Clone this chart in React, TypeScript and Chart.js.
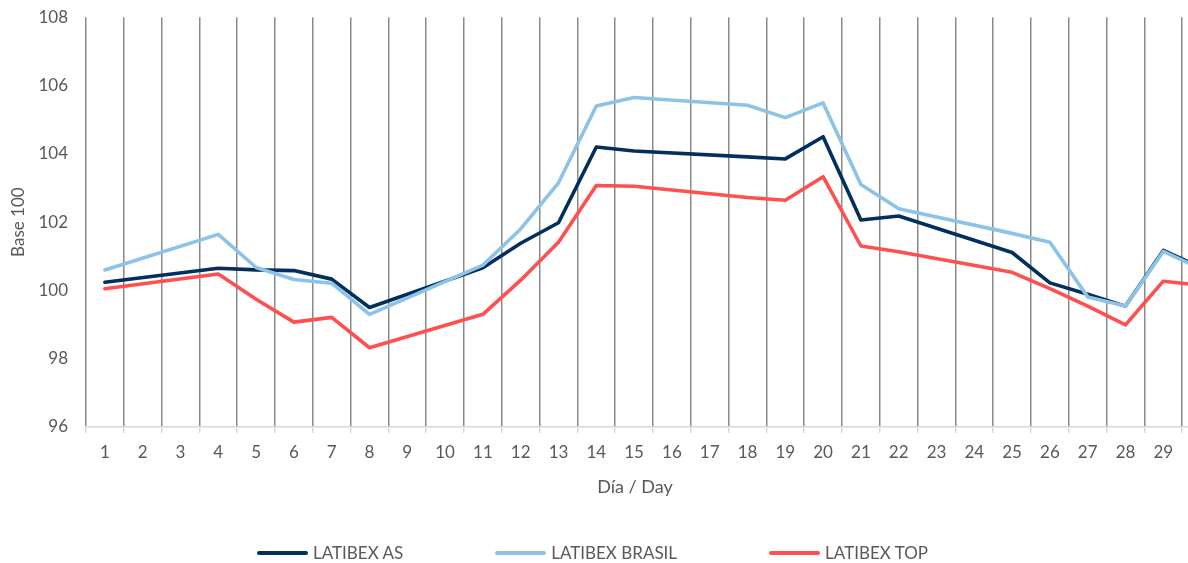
import React, { useEffect, useRef } from "react";
import { Chart, registerables } from "chart.js";

Chart.register(...registerables);

const days = ["1","2","3","4","5","6","7","8","9","10","11","12","13","14","15","16","17","18","19","20","21","22","23","24","25","26","27","28","29","30"];

// weekend days have no quote (null); Excel joins the line across them
const latibexAS = [100.24,null,null,100.65,100.6,100.58,100.33,99.5,null,null,100.66,101.38,101.98,104.2,104.08,null,null,103.91,103.85,104.5,102.06,102.18,null,null,101.11,100.22,99.89,99.54,101.17,100.67];
const latibexBrasil = [100.6,null,null,101.64,100.67,100.32,100.21,99.3,null,null,100.74,101.8,103.15,105.4,105.65,null,null,105.42,105.06,105.49,103.1,102.39,null,null,101.67,101.41,99.81,99.54,101.14,100.63];
const latibexTop = [100.05,null,null,100.48,99.74,99.07,99.21,98.32,null,null,99.3,100.3,101.41,103.07,103.05,null,null,102.72,102.64,103.33,101.3,101.13,null,null,100.53,100.05,99.54,98.99,100.27,100.15];

const seriesNames = ["LATIBEX AS", "LATIBEX BRASIL", "LATIBEX TOP"];
const seriesColors = ["#022f5e", "#8cc3e7", "#ff5050"];
const yTicks = [96, 98, 100, 102, 104, 106, 108];
const xTitle = "Día / Day";
const yTitle = "Base 100";

const FONT = "Lato, 'Open Sans', sans-serif";
const TEXT = "#595959";

export default function App() {
  const ref = useRef<HTMLCanvasElement>(null);

  useEffect(() => {
    const values = [latibexAS, latibexBrasil, latibexTop];
    const chart = new Chart(ref.current!, {
      type: "line",
      data: {
        labels: days,
        datasets: values.map((v, i) => ({
          label: seriesNames[i],
          data: v,
          borderColor: seriesColors[i],
          backgroundColor: seriesColors[i],
          borderWidth: 3.6,
          pointRadius: 0,
          tension: 0,
          spanGaps: true,
          borderJoinStyle: "round" as const,
          borderCapStyle: "round" as const,
          order: 2 - i,
        })),
      },
      options: {
        animation: false,
        responsive: true,
        maintainAspectRatio: false,
        layout: { padding: { left: 0, top: 0, right: 20, bottom: 0 } },
        plugins: { legend: { display: false }, tooltip: { enabled: false } },
        scales: {
          x: {
            offset: true,
            grid: {
              offset: true,
              color: "#8a8a8a",
              lineWidth: 1.5,
              tickColor: "#d9d9d9",
              tickLength: 6,
              drawTicks: true,
            },
            border: { color: "#d9d9d9", width: 1.5 },
            ticks: {
              color: TEXT,
              font: { family: FONT, size: 17 },
              autoSkip: false,
              maxRotation: 0,
              padding: 9,
            },
            afterFit: (s: any) => {
              s.height = 136;
            },
          },
          y: {
            min: yTicks[0],
            max: yTicks[yTicks.length - 1],
            grid: { display: false, drawTicks: true, tickLength: 11 },
            border: { display: false },
            ticks: {
              stepSize: 2,
              color: TEXT,
              font: { family: FONT, size: 17 },
              padding: 7,
            },
            title: {
              display: true,
              text: yTitle,
              color: TEXT,
              font: { family: FONT, size: 17 },
              padding: { top: 8, bottom: 0 },
            },
            afterFit: (s: any) => {
              s.width = 86;
            },
          },
        },
      },
    });
    return () => chart.destroy();
  }, []);

  return (
    <div style={{ position: "fixed", inset: 0, overflow: "hidden", background: "#fff", fontFamily: FONT, color: TEXT }}>
      <div style={{ position: "absolute", left: 0, top: 0, width: 1240, height: 563 }}>
        <canvas ref={ref} />
      </div>
      <div style={{ position: "absolute", left: 0, width: 1270, top: 475, textAlign: "center", fontSize: 18, lineHeight: "22px" }}>
        {xTitle}
      </div>
      <div style={{ position: "absolute", left: 257, top: 542, display: "flex", alignItems: "center", gap: 92, fontSize: 17, lineHeight: "22px", whiteSpace: "nowrap" }}>
        {seriesNames.map((n, i) => (
          <div key={n} style={{ display: "flex", alignItems: "center" }}>
            <span style={{ display: "inline-block", width: 51, height: 4, borderRadius: 2, background: seriesColors[i], marginRight: 5 }} />
            <span>{n}</span>
          </div>
        ))}
      </div>
    </div>
  );
}
